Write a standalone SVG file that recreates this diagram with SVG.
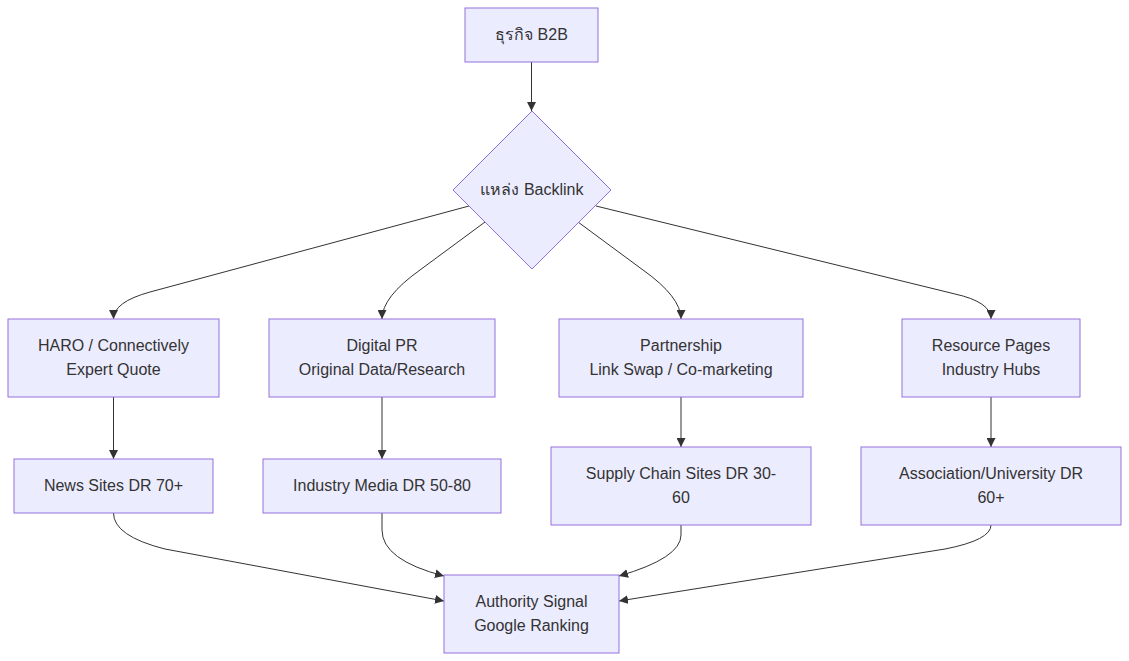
<svg xmlns="http://www.w3.org/2000/svg" width="1129" height="661" viewBox="0 0 1129 661">
<style>
.node rect,.node polygon{fill:#ECECFF;stroke:#9370DB;stroke-width:1}
.node text{font-family:"Liberation Sans","Noto Sans","DejaVu Sans",sans-serif;font-size:16px;fill:#333;text-anchor:middle;dominant-baseline:central}
.edges path{fill:none;stroke:#333;stroke-width:1;marker-end:url(#arrow)}
</style>
<defs>
<marker id="arrow" viewBox="0 0 10 10" refX="10" refY="5" markerUnits="userSpaceOnUse" markerWidth="9" markerHeight="9" orient="auto">
<path d="M0,0 L10,5 L0,10 z" fill="#333"/>
</marker>
</defs>
<rect width="1129" height="661" fill="#fff"/>
<g class="edges">
<path d="M531.5,62 L531.5,111"/>
<path d="M469,206 L150,292 Q113.5,302 113.5,319"/>
<path d="M485,222 L420,270 Q382,297 382,319"/>
<path d="M578,222 L643,270 Q681,297 681,319"/>
<path d="M596,206 L955,294 Q991,302 991,319"/>
<path d="M113.5,397 L113.5,459"/>
<path d="M382,397 L382,459"/>
<path d="M681,397 L681,447"/>
<path d="M991,397 L991,447"/>
<path d="M113.5,513 Q113.5,536 165,549 L444,601"/>
<path d="M382,513 L382,530 Q382,560 444,576"/>
<path d="M681,525 L681,535 Q681,558 619,576"/>
<path d="M991,525 Q991,540 945,549 L619,601"/>
</g>
<g class="node" id="n-top"><rect x="465" y="8" width="133" height="54"/><text x="531.5" y="34">ธุรกิจ B2B</text></g>
<g class="node" id="n-src"><polygon points="532,111 611,190 532,269 453,190"/><text x="532" y="189">แหล่ง Backlink</text></g>
<g class="node" id="n-haro"><rect x="8" y="319" width="211" height="78"/><text x="113.5" y="345">HARO / Connectively</text><text x="113.5" y="369">Expert Quote</text></g>
<g class="node" id="n-pr"><rect x="269" y="319" width="226" height="78"/><text x="382" y="345">Digital PR</text><text x="382" y="369">Original Data/Research</text></g>
<g class="node" id="n-part"><rect x="559" y="319" width="244" height="78"/><text x="681" y="345">Partnership</text><text x="681" y="369">Link Swap / Co-marketing</text></g>
<g class="node" id="n-res"><rect x="902" y="319" width="178" height="78"/><text x="991" y="345">Resource Pages</text><text x="991" y="369">Industry Hubs</text></g>
<g class="node" id="n-news"><rect x="14" y="459" width="199" height="54"/><text x="113.5" y="485">News Sites DR 70+</text></g>
<g class="node" id="n-media"><rect x="263" y="459" width="238" height="54"/><text x="382" y="485">Industry Media DR 50-80</text></g>
<g class="node" id="n-supply"><rect x="551" y="447" width="260" height="78"/><text x="681" y="473">Supply Chain Sites DR 30-</text><text x="681" y="497">60</text></g>
<g class="node" id="n-assoc"><rect x="861" y="447" width="260" height="78"/><text x="991" y="473">Association/University DR</text><text x="991" y="497">60+</text></g>
<g class="node" id="n-auth"><rect x="444" y="575" width="175" height="78"/><text x="531.5" y="601">Authority Signal</text><text x="531.5" y="625">Google Ranking</text></g>
</svg>
